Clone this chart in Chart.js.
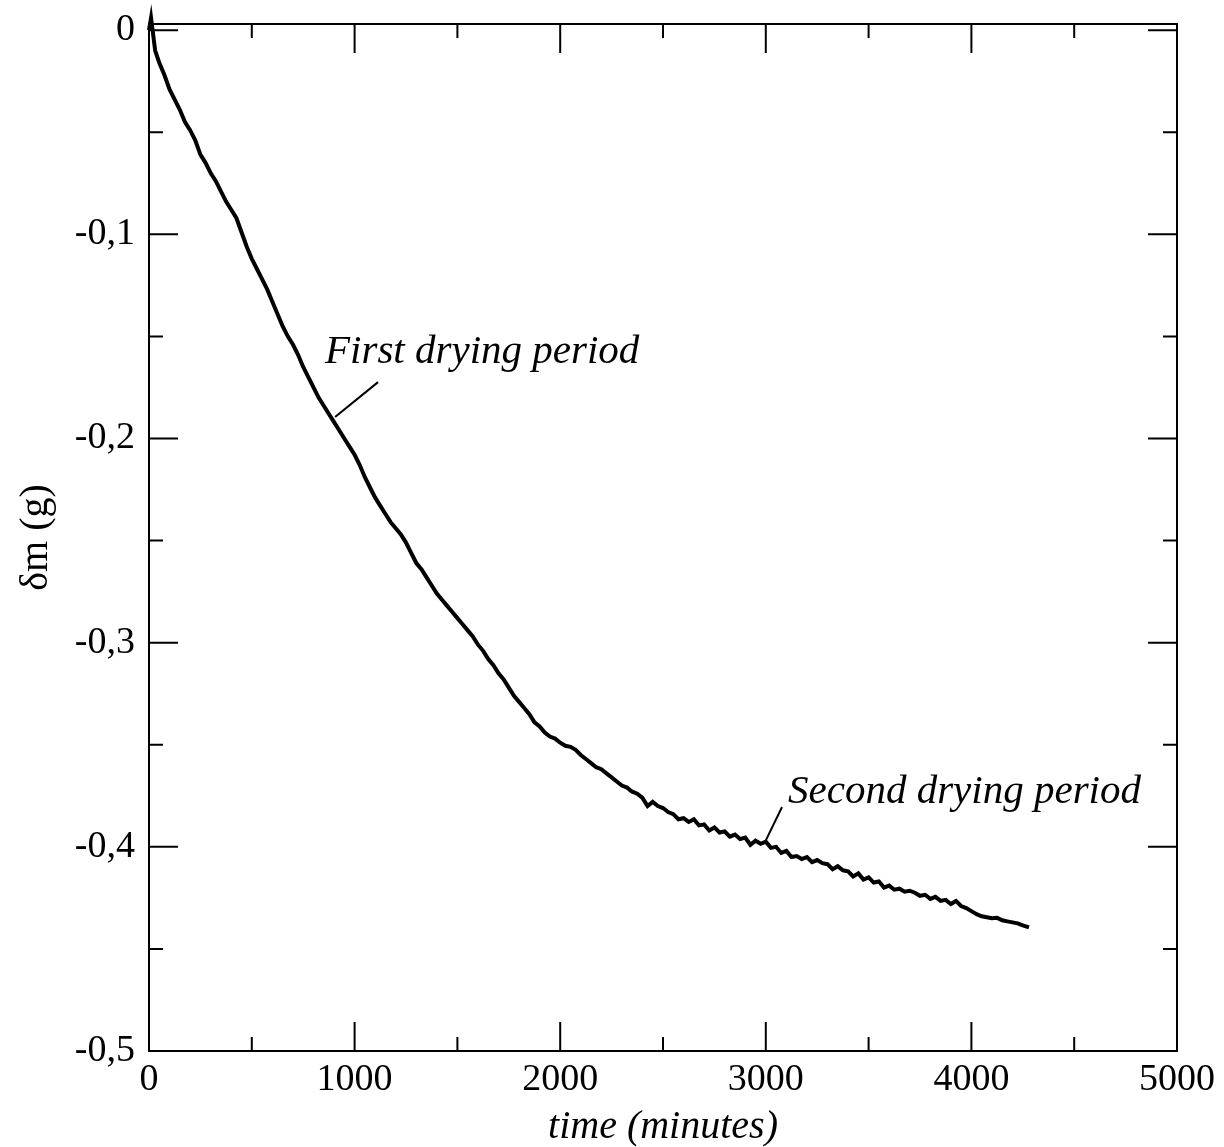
<!DOCTYPE html>
<html>
<head>
<meta charset="utf-8">
<script src="https://cdn.jsdelivr.net/npm/chart.js@4.4.1/dist/chart.umd.min.js"></script>
<style>
html,body{margin:0;padding:0;background:#fff;}
canvas{display:block;}
</style>
</head>
<body>
<canvas id="c" width="1224" height="1147"></canvas>
<script>
// ---- data ----
const timeMinutes = [
  0,10,20,30,50,75,100,125,150,175,200,225,250,275,300,325,350,375,400,425,
  450,475,500,525,550,575,600,625,650,675,700,725,750,775,800,825,850,875,900,925,
  950,975,1000,1025,1050,1075,1100,1125,1150,1175,1200,1225,1250,1275,1300,1325,1350,1375,1400,1425,
  1450,1475,1500,1525,1550,1575,1600,1625,1650,1675,1700,1725,1750,1775,1800,1825,1850,1875,1900,1925,
  1950,1975,2000,2025,2050,2075,2100,2125,2150,2175,2200,2225,2250,2275,2300,2325,2350,2375,2400,2425,
  2450,2475,2500,2525,2550,2575,2600,2625,2650,2675,2700,2725,2750,2775,2800,2825,2850,2875,2900,2925,
  2950,2975,3000,3025,3050,3075,3100,3125,3150,3175,3200,3225,3250,3275,3300,3325,3350,3375,3400,3425,
  3450,3475,3500,3525,3550,3575,3600,3625,3650,3675,3700,3725,3750,3775,3800,3825,3850,3875,3900,3925,
  3950,3975,4000,4025,4050,4075,4100,4125,4150,4175,4200,4225,4250,4280
];
const deltaMass = [
  0.000,0.006,-0.002,-0.010,-0.016,-0.022,-0.029,-0.034,-0.039,-0.045,-0.049,-0.054,-0.061,-0.065,-0.070,-0.074,-0.079,-0.084,-0.088,-0.092,
  -0.099,-0.106,-0.112,-0.117,-0.122,-0.127,-0.133,-0.139,-0.145,-0.150,-0.154,-0.159,-0.165,-0.170,-0.175,-0.180,-0.184,-0.188,-0.192,-0.196,
  -0.200,-0.204,-0.208,-0.213,-0.219,-0.224,-0.229,-0.233,-0.237,-0.241,-0.244,-0.247,-0.251,-0.256,-0.261,-0.264,-0.268,-0.272,-0.276,-0.279,
  -0.282,-0.285,-0.288,-0.291,-0.294,-0.297,-0.301,-0.304,-0.308,-0.311,-0.315,-0.318,-0.322,-0.326,-0.329,-0.332,-0.335,-0.339,-0.341,-0.344,
  -0.346,-0.347,-0.349,-0.3505,-0.351,-0.3525,-0.355,-0.357,-0.359,-0.361,-0.362,-0.364,-0.366,-0.368,-0.370,-0.371,-0.373,-0.374,-0.376,-0.380,
  -0.378,-0.380,-0.381,-0.383,-0.384,-0.3865,-0.3860,-0.3878,-0.3865,-0.3895,-0.3890,-0.3920,-0.3905,-0.3930,-0.3925,-0.3950,-0.3940,-0.3962,-0.3955,-0.3990,
  -0.3970,-0.3985,-0.3975,-0.4005,-0.4000,-0.4030,-0.4020,-0.4050,-0.4045,-0.4060,-0.4050,-0.4075,-0.4065,-0.4080,-0.4085,-0.4110,-0.4095,-0.4115,-0.4120,-0.4145,
  -0.4130,-0.4160,-0.4150,-0.4175,-0.4170,-0.4200,-0.4190,-0.4210,-0.4205,-0.4220,-0.4215,-0.4225,-0.4240,-0.4235,-0.4255,-0.4245,-0.4265,-0.4260,-0.4280,-0.4265,
  -0.4290,-0.4300,-0.4315,-0.4330,-0.4340,-0.4345,-0.4350,-0.4348,-0.4360,-0.4365,-0.4370,-0.4375,-0.4385,-0.4395
];
const xMajorTicks = [0,1000,2000,3000,4000,5000];
const xMinorTicks = [500,1500,2500,3500,4500];
const yMajorTicks = [0,-0.1,-0.2,-0.3,-0.4,-0.5];
const yMinorTicks = [-0.05,-0.15,-0.25,-0.35,-0.45];
const yTickLabels = ['0','-0,1','-0,2','-0,3','-0,4','-0,5'];
const xAxisTitle = 'time (minutes)';
const yAxisTitle = 'δm (g)';
// annotations: text anchor and leader line, in data units
const annotations = [
  {text:'First drying period', x:856, y:-0.1631, line:[[905,-0.1895],[1114,-0.1724]]},
  {text:'Second drying period', x:3108, y:-0.3785, line:[[2996,-0.3977],[3079,-0.3805]]}
];

const SERIF = '"Liberation Serif", "Times New Roman", serif';

const framePlugin = {
  id: 'frame',
  afterDatasetsDraw(chart) {
    const ctx = chart.ctx;
    const xs = chart.scales.x, ys = chart.scales.y;
    const a = chart.chartArea;
    ctx.save();
    ctx.strokeStyle = '#000';
    ctx.lineWidth = 2;
    ctx.lineCap = 'butt';
    ctx.strokeRect(a.left, a.top, a.right - a.left, a.bottom - a.top);
    ctx.beginPath();
    const maj = 29, min = 14;
    xMajorTicks.forEach(v => { const p = xs.getPixelForValue(v);
      ctx.moveTo(p, a.bottom); ctx.lineTo(p, a.bottom - maj);
      ctx.moveTo(p, a.top); ctx.lineTo(p, a.top + maj); });
    xMinorTicks.forEach(v => { const p = xs.getPixelForValue(v);
      ctx.moveTo(p, a.bottom); ctx.lineTo(p, a.bottom - min);
      ctx.moveTo(p, a.top); ctx.lineTo(p, a.top + min); });
    yMajorTicks.forEach(v => { const p = ys.getPixelForValue(v);
      ctx.moveTo(a.left, p); ctx.lineTo(a.left + maj, p);
      ctx.moveTo(a.right, p); ctx.lineTo(a.right - maj, p); });
    yMinorTicks.forEach(v => { const p = ys.getPixelForValue(v);
      ctx.moveTo(a.left, p); ctx.lineTo(a.left + min, p);
      ctx.moveTo(a.right, p); ctx.lineTo(a.right - min, p); });
    ctx.stroke();

    // annotations
    ctx.fillStyle = '#000';
    ctx.font = 'italic 41px ' + SERIF;
    ctx.textAlign = 'left';
    ctx.textBaseline = 'alphabetic';
    ctx.lineWidth = 2;
    annotations.forEach(an => {
      ctx.fillText(an.text, xs.getPixelForValue(an.x), ys.getPixelForValue(an.y));
      ctx.beginPath();
      ctx.moveTo(xs.getPixelForValue(an.line[0][0]), ys.getPixelForValue(an.line[0][1]));
      ctx.lineTo(xs.getPixelForValue(an.line[1][0]), ys.getPixelForValue(an.line[1][1]));
      ctx.stroke();
    });
    ctx.restore();
  }
};

new Chart(document.getElementById('c'), {
  type: 'line',
  data: {
    datasets: [{
      data: timeMinutes.map((t, i) => ({x: t, y: deltaMass[i]})),
      borderColor: '#000',
      borderWidth: 4,
      pointRadius: 0,
      tension: 0,
      fill: false,
      clip: false
    }]
  },
  options: {
    responsive: false,
    animation: false,
    devicePixelRatio: 1,
    layout: {padding: {left: 0, top: 24, right: 47, bottom: 0}},
    plugins: {legend: {display: false}, tooltip: {enabled: false}},
    scales: {
      x: {
        type: 'linear', min: 0, max: 5000,
        afterFit: s => { s.height = 96; s.paddingLeft = 0; s.paddingRight = 0; s.paddingTop = 0; s.paddingBottom = 0; },
        afterBuildTicks: s => { s.ticks = xMajorTicks.map(v => ({value: v})); },
        grid: {display: false, drawTicks: false},
        border: {display: false},
        ticks: {color: '#000', padding: 6, maxRotation: 0, autoSkip: false,
          font: {family: SERIF, size: 38},
          callback: v => String(v)},
        title: {display: true, text: xAxisTitle, color: '#000',
          font: {family: SERIF, size: 40, style: 'italic', lineHeight: 1},
          padding: {top: 0, bottom: 0}}
      },
      y: {
        type: 'linear', min: -0.5, max: 0.003,
        afterFit: s => { s.width = 149; s.paddingLeft = 0; s.paddingRight = 0; s.paddingTop = 0; s.paddingBottom = 0; },
        afterBuildTicks: s => { s.ticks = yMajorTicks.map(v => ({value: v})); },
        grid: {display: false, drawTicks: false},
        border: {display: false},
        ticks: {color: '#000', padding: 14, autoSkip: false,
          font: {family: SERIF, size: 38},
          callback: (v) => { const i = yMajorTicks.findIndex(t => Math.abs(t - v) < 1e-9); return i >= 0 ? yTickLabels[i] : ''; }},
        title: {display: true, text: yAxisTitle, color: '#000',
          font: {family: SERIF, size: 40},
          padding: {top: 12, bottom: 0}}
      }
    }
  },
  plugins: [framePlugin]
});
</script>
</body>
</html>
